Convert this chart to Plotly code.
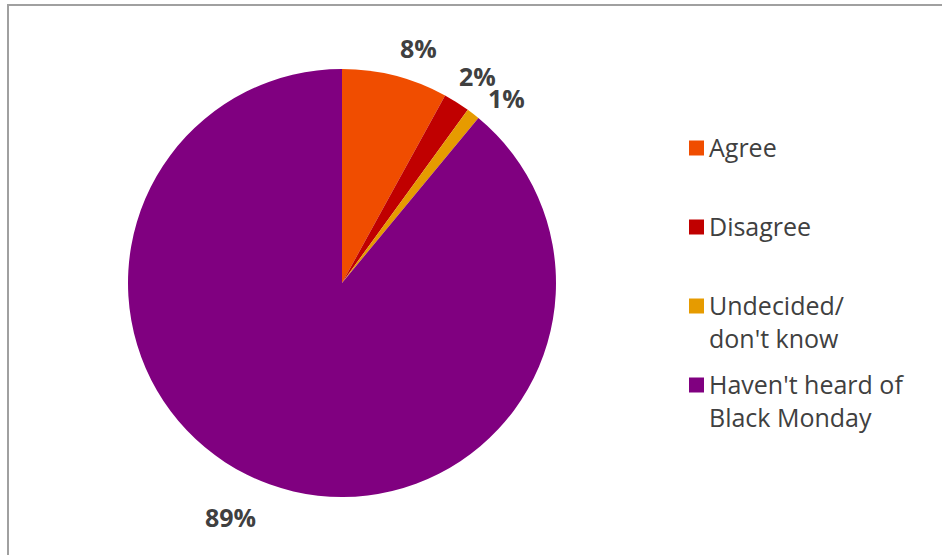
import math
import plotly.graph_objects as go

# Survey responses on Black Monday
categories = ["Agree", "Disagree", "Undecided/<br>don't know", "Haven't heard of<br>Black Monday"]
values = [8, 2, 1, 89]
colors = ["#F04D00", "#C00000", "#E69B00", "#800080"]

W, H = 942, 555
# pie placement in pixels: centre and radius
cx, cy, r = 342, 283, 214
label_gap = 36
# small pixel nudges so the labels of the thin slices do not collide
label_shift = [(14, -7), (2, -4), (11, -13), (-27, 1)]

fig = go.Figure(
    go.Pie(
        labels=categories,
        values=values,
        sort=False,
        direction="clockwise",
        rotation=0,
        marker=dict(colors=colors, line=dict(width=0)),
        textinfo="none",
        domain=dict(x=[(cx - r) / W, (cx + r) / W], y=[(H - cy - r) / H, (H - cy + r) / H]),
        showlegend=False,
        hoverinfo="label+percent",
    )
)

annotations = []

# percentage labels placed just outside each slice's mid-angle
total = sum(values)
start = 0.0
for v, (sx, sy) in zip(values, label_shift):
    mid = math.radians((start + v / 2) / total * 360)
    start += v
    px = cx + (r + label_gap) * math.sin(mid)
    py = cy - (r + label_gap) * math.cos(mid)
    annotations.append(dict(xref="paper", yref="paper", x=px / W, y=1 - py / H,
                            xanchor="center", yanchor="middle", showarrow=False,
                            xshift=sx, yshift=sy, text=f"<b>{v}%</b>",
                            font=dict(family="Open Sans", size=25, color="#404040")))

# Legend drawn as coloured squares with labels beside them
legend_rows = [148, 227, 306, 385]
sq = 15
x_sq = 689
shapes = []
for cat, col, yc in zip(categories, colors, legend_rows):
    shapes.append(dict(type="rect", xref="paper", yref="paper",
                       x0=x_sq / W, x1=(x_sq + sq) / W,
                       y0=1 - (yc + sq / 2) / H, y1=1 - (yc - sq / 2) / H,
                       fillcolor=col, line=dict(width=0)))
    annotations.append(dict(xref="paper", yref="paper", x=707 / W, y=1 - (yc - 20) / H,
                            xanchor="left", yanchor="top", align="left", showarrow=False,
                            text=cat, font=dict(family="Open Sans", size=25, color="#404040")))

# frame lines along the top and left edge
shapes.append(dict(type="line", xref="paper", yref="paper", x0=8 / W, x1=1, y0=1 - 5 / H, y1=1 - 5 / H,
                   line=dict(color="#A0A0A0", width=2)))
shapes.append(dict(type="line", xref="paper", yref="paper", x0=8 / W, x1=8 / W, y0=0, y1=1 - 4 / H,
                   line=dict(color="#A0A0A0", width=2)))

fig.update_layout(
    width=W, height=H,
    margin=dict(l=0, r=0, t=0, b=0),
    paper_bgcolor="white", plot_bgcolor="white",
    shapes=shapes, annotations=annotations,
)

fig.write_html("out.html")
